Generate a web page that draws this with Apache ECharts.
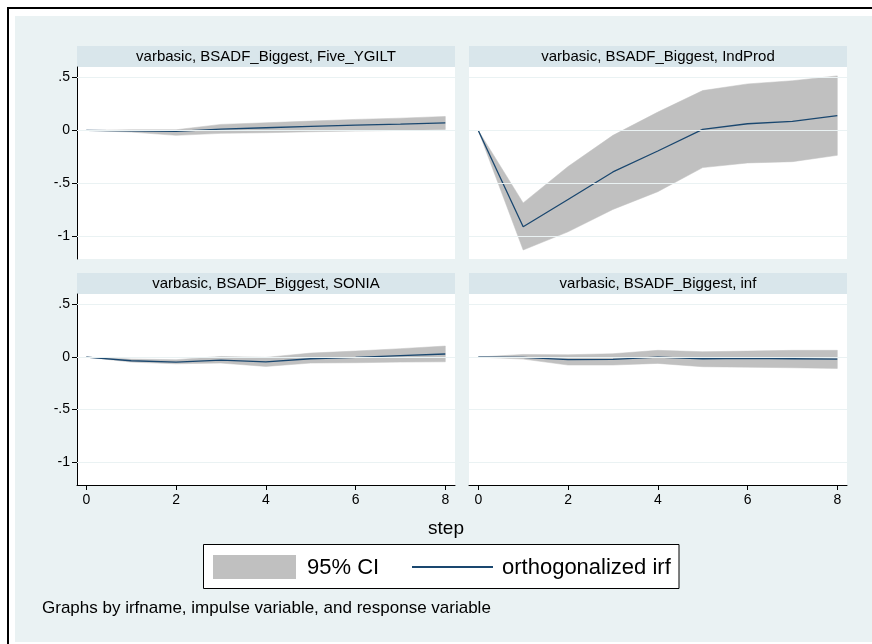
<!DOCTYPE html>
<html>
<head>
<meta charset="utf-8">
<script src="https://cdn.jsdelivr.net/npm/echarts@6/dist/echarts.min.js"></script>
<style>
html,body{margin:0;padding:0;background:#fff;}
#chart{width:872px;height:644px;}
</style>
</head>
<body>
<div id="chart"></div>
<script>
// ---------- data ----------
const steps = [0, 1, 2, 3, 4, 5, 6, 7, 8];
const panelTitles = [
  'varbasic, BSADF_Biggest, Five_YGILT',
  'varbasic, BSADF_Biggest, IndProd',
  'varbasic, BSADF_Biggest, SONIA',
  'varbasic, BSADF_Biggest, inf'
];
// Five_YGILT
const irfGilt = [0, -0.005, -0.009, 0.013, 0.025, 0.038, 0.050, 0.060, 0.072];
const loGilt  = [0, -0.016, -0.047, -0.028, -0.022, -0.013, -0.006, 0.000, 0.009];
const hiGilt  = [0, 0.006, 0.006, 0.057, 0.072, 0.088, 0.104, 0.116, 0.132];
// IndProd
const irfInd = [0, -0.912, -0.654, -0.393, -0.195, 0.009, 0.063, 0.085, 0.140];
const loInd  = [0, -1.132, -0.960, -0.748, -0.580, -0.352, -0.308, -0.296, -0.236];
const hiInd  = [0, -0.686, -0.342, -0.047, 0.173, 0.377, 0.440, 0.470, 0.516];
// SONIA
const irfSonia = [0, -0.035, -0.048, -0.029, -0.045, -0.016, -0.003, 0.013, 0.029];
const loSonia  = [0, -0.048, -0.064, -0.057, -0.089, -0.057, -0.054, -0.048, -0.045];
const hiSonia  = [0, -0.019, -0.025, 0.006, -0.003, 0.038, 0.057, 0.080, 0.105];
// inf
const irfInf = [0, -0.003, -0.025, -0.022, 0.000, -0.016, -0.013, -0.016, -0.019];
const loInf  = [0, -0.019, -0.076, -0.076, -0.060, -0.092, -0.096, -0.102, -0.108];
const hiInf  = [0, 0.025, 0.022, 0.032, 0.064, 0.051, 0.057, 0.064, 0.064];

const yTickValues = [-1, -0.5, 0, 0.5];
const yTickLabels = ['-1', '-.5', '0', '.5'];
const xTickValues = [0, 2, 4, 6, 8];
const legendLabels = ['95% CI', 'orthogonalized irf'];
const xAxisTitle = 'step';
const noteText = 'Graphs by irfname, impulse variable, and response variable';

// ---------- styling ----------
const FONT = '"Liberation Sans", Arial, Helvetica, sans-serif';
const BG = '#EAF2F3';
const STRIP = '#D9E6EB';
const BAND = '#C0C0C0';
const LINE = '#1A476F';
const GRIDC = '#EAF2F3';

const panels = [
  {irf: irfGilt, lo: loGilt, hi: hiGilt},
  {irf: irfInd, lo: loInd, hi: hiInd},
  {irf: irfSonia, lo: loSonia, hi: hiSonia},
  {irf: irfInf, lo: loInf, hi: hiInf}
];
const gridBoxes = [
  {left: 77, top: 67, width: 378, height: 192},
  {left: 469, top: 67, width: 378, height: 192},
  {left: 77, top: 294, width: 378, height: 191},
  {left: 469, top: 294, width: 378, height: 191}
];
const stripH = 21;
const X_MIN = -0.207, X_MAX = 8.216;
const Y_MIN = -1.217, Y_MAX = 0.6;

const grids = gridBoxes.map(b => ({left: b.left, top: b.top, width: b.width, height: b.height, show: true, backgroundColor: '#fff', borderWidth: 0, containLabel: false}));

const xAxes = gridBoxes.map((b, i) => {
  const bottom = i >= 2;
  return {
    type: 'value', gridIndex: i, min: X_MIN, max: X_MAX,
    axisLine: {show: bottom, onZero: false, lineStyle: {color: '#000', width: 1}},
    axisTick: {show: bottom, customValues: xTickValues, length: 5, lineStyle: {color: '#000'}},
    axisLabel: {show: bottom, customValues: xTickValues, fontSize: 14, fontFamily: FONT, color: '#000', margin: 8},
    splitLine: {show: false}
  };
});
const yAxes = gridBoxes.map((b, i) => {
  const left = i % 2 === 0;
  return {
    type: 'value', gridIndex: i, min: Y_MIN, max: Y_MAX,
    axisLine: {show: left, onZero: false, lineStyle: {color: '#000', width: 1}},
    axisTick: {show: left, customValues: yTickValues, length: 5, lineStyle: {color: '#000'}},
    axisLabel: {show: left, customValues: yTickValues, fontSize: 14, fontFamily: FONT, color: '#000', margin: 7,
      formatter: v => { const k = yTickValues.findIndex(t => Math.abs(t - v) < 1e-9); return k >= 0 ? yTickLabels[k] : ''; }},
    splitLine: {show: false}
  };
});

const series = [];
panels.forEach((p, i) => {
  // gridlines
  series.push({
    type: 'line', xAxisIndex: i, yAxisIndex: i, z: 1, silent: true,
    data: [], showSymbol: false,
    markLine: {
      silent: true, symbol: ['none', 'none'], label: {show: false},
      lineStyle: {color: GRIDC, width: 1.2, type: 'solid'},
      animation: false,
      data: yTickValues.map(v => ({yAxis: v}))
    }
  });
  // CI band
  series.push({
    type: 'custom', name: legendLabels[0], xAxisIndex: i, yAxisIndex: i, z: 2, silent: true,
    data: steps.map((s, k) => [s, p.lo[k], p.hi[k]]),
    encode: {x: 0, y: [1, 2]},
    renderItem: (params, api) => {
      if (params.dataIndex !== 0) return null;
      const pts = [];
      for (let k = 0; k < steps.length; k++) pts.push(api.coord([steps[k], p.hi[k]]));
      for (let k = steps.length - 1; k >= 0; k--) pts.push(api.coord([steps[k], p.lo[k]]));
      return {type: 'polygon', shape: {points: pts}, style: {fill: BAND, stroke: BAND, lineWidth: 0.5}};
    }
  });
  // irf line
  series.push({
    type: 'line', name: legendLabels[1], xAxisIndex: i, yAxisIndex: i, z: 3, silent: true,
    data: steps.map((s, k) => [s, p.irf[k]]),
    showSymbol: false, symbol: 'none',
    lineStyle: {color: LINE, width: 1.3}
  });
});

const graphics = [
  {type: 'rect', z: -10, shape: {x: 8, y: 8, width: 880, height: 650}, style: {fill: '#fff', stroke: '#000', lineWidth: 2}},
  {type: 'rect', z: -9, shape: {x: 15, y: 16, width: 870, height: 626}, style: {fill: BG}}
];
gridBoxes.forEach((b, i) => {
  graphics.push({type: 'rect', z: -5, shape: {x: b.left, y: b.top - stripH, width: b.width, height: stripH}, style: {fill: STRIP}});
  graphics.push({type: 'text', z: 5, x: b.left + b.width / 2, y: b.top - stripH / 2 + 0.5,
    style: {text: panelTitles[i], font: '15px ' + FONT, fill: '#000', align: 'center', verticalAlign: 'middle'}});
});
graphics.push({type: 'text', x: 446, y: 529, style: {text: xAxisTitle, font: '19px ' + FONT, fill: '#000', align: 'center', verticalAlign: 'middle'}});
// legend
graphics.push({type: 'rect', shape: {x: 203.5, y: 544.5, width: 475.5, height: 44}, style: {fill: '#fff', stroke: '#000', lineWidth: 1}});
graphics.push({type: 'rect', shape: {x: 213, y: 555, width: 83, height: 24}, style: {fill: BAND}});
graphics.push({type: 'text', x: 307, y: 567.5, style: {text: legendLabels[0], font: '22px ' + FONT, fill: '#000', align: 'left', verticalAlign: 'middle'}});
graphics.push({type: 'line', shape: {x1: 412, y1: 567, x2: 493, y2: 567}, style: {stroke: LINE, lineWidth: 2}});
graphics.push({type: 'text', x: 502, y: 567.5, style: {text: legendLabels[1], font: '22px ' + FONT, fill: '#000', align: 'left', verticalAlign: 'middle'}});
graphics.push({type: 'text', x: 42, y: 608, style: {text: noteText, font: '17px ' + FONT, fill: '#000', align: 'left', verticalAlign: 'middle'}});

const chart = echarts.init(document.getElementById('chart'), null, {renderer: 'canvas'});
chart.setOption({
  animation: false,
  backgroundColor: '#fff',
  grid: grids,
  xAxis: xAxes,
  yAxis: yAxes,
  series: series,
  graphic: graphics
});
</script>
</body>
</html>
